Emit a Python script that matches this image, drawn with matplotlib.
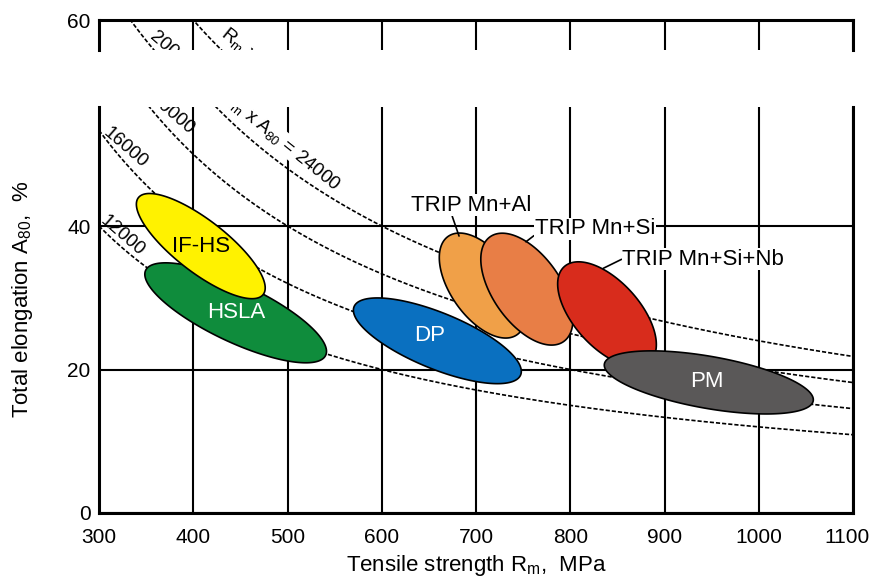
import numpy as np
import matplotlib.pyplot as plt
from matplotlib.transforms import ScaledTranslation

plt.rcParams['font.family'] = ['Liberation Sans', 'DejaVu Sans']
plt.rcParams['mathtext.default'] = 'regular'

# iso-lines Rm x A80 = const
products = [12000, 16000, 20000, 24000]
product_labels = ['12000', '16000', '20000', 'R$_m$ x A$_{80}$ = 24000']
product_label_x = [325, 328, 377, 493]
product_label_y = [38.7, 50.9, 55.6, 51.9]
product_label_rot = [-41, -41, -41, -39]

# steel grade regions: centre (MPa, %), semi-axes (MPa-equivalent), tilt (deg)
grades = ['HSLA', 'IF-HS', 'DP', 'TRIP Mn+Al', 'TRIP Mn+Si', 'TRIP Mn+Si+Nb', 'PM']
rm_centre = [445, 408, 659, 707, 754, 839, 947]
a80_centre = [27.9, 37.2, 24.0, 31.7, 31.2, 27.7, 18.2]
semi_major = [105.6, 83.8, 95.5, 63.7, 67.9, 67.9, 112.5]
semi_minor = [30.8, 27.6, 29.7, 34.0, 36.1, 35.0, 27.6]
tilt = [-25.3, -37.8, -22.3, -55, -55, -48, -10]
fill_colors = ['#0F8C3C', '#FFF200', '#0A70C0', '#F0A048', '#E87E46', '#D82C1C', '#5A5858']

# labels drawn inside the regions
inner_names = ['HSLA', 'IF-HS', 'DP', 'PM']
inner_x = [446, 408, 651, 945]
inner_y = [27.9, 37.1, 24.7, 18.3]
inner_colors = ['white', 'black', 'white', 'white']

# TRIP labels with leader lines
trip_names = ['TRIP Mn+Al', 'TRIP Mn+Si', 'TRIP Mn+Si+Nb']
trip_text_x = [695, 826, 941]
trip_text_y = [42.9, 39.6, 35.4]
trip_point_x = [682, 753, 835]
trip_point_y = [38.6, 37.8, 34.1]
trip_relpos = [(0.34, 0.0), (0.0, 0.2), (0.0, 0.5)]

W, H = 871, 579
fig = plt.figure(figsize=(W / 100, H / 100), dpi=100)
ax_top = fig.add_axes([99 / W, 1 - 50 / H, 754 / W, 30 / H])
ax = fig.add_axes([99 / W, 1 - 513 / H, 754 / W, 406 / H])

px_per_mpa = 754 / 800
px_per_pct = 287 / 40
k = px_per_pct / px_per_mpa

ax.set_ylim(0, 406 / px_per_pct)
ax_top.set_ylim(60 - 30 / px_per_pct, 60)

rm = np.linspace(300, 1100, 400)
for a in (ax, ax_top):
    a.set_xlim(300, 1100)
    a.set_xticks(range(300, 1101, 100))
    a.tick_params(length=0, labelsize=15)
    a.grid(axis='x', color='black', lw=1.5, zorder=0.5)
    a.set_axisbelow(True)
    for s in a.spines.values():
        s.set_linewidth(2.2)
        s.set_zorder(10)
    for c in products:
        a.plot(rm, c / rm, color='black', lw=1.2, ls=(0, (2.5, 1.2)), zorder=3)
    for lab, lx, ly, rot in zip(product_labels, product_label_x, product_label_y,
                                product_label_rot):
        bb = dict(fc='white', ec='none', pad=0.5) if '24000' in lab else None
        a.text(lx, ly, lab, fontsize=13.5, rotation=rot, ha='center', va='center',
               rotation_mode='anchor', clip_on=True, bbox=bb, zorder=2)

ax_top.spines['bottom'].set_visible(False)
ax_top.tick_params(labelbottom=False, pad=6)
ax_top.set_yticks([60])
ax.spines['top'].set_visible(False)
ax.set_yticks([0, 20, 40])
ax.grid(axis='y', color='black', lw=1.5, zorder=0.5)
ax.tick_params(axis='x', pad=11)
ax.tick_params(axis='y', pad=6)

# keep the last x tick label inside the picture
last = ax.get_xticklabels()[-1]
last.set_transform(last.get_transform() + ScaledTranslation(-6 / 100, 0, fig.dpi_scale_trans))

t = np.linspace(0, 2 * np.pi, 300)
for i in range(len(grades)):
    th = np.radians(tilt[i])
    ex = semi_major[i] * np.cos(t)
    ey = semi_minor[i] * np.sin(t)
    xs = rm_centre[i] + ex * np.cos(th) - ey * np.sin(th)
    ys = a80_centre[i] + (ex * np.sin(th) + ey * np.cos(th)) / k
    ax.fill(xs, ys, facecolor=fill_colors[i], edgecolor='black', lw=1.2, zorder=4 + i * 0.1)

for name, x, y, c in zip(inner_names, inner_x, inner_y, inner_colors):
    ax.text(x, y, name, color=c, fontsize=16, ha='center', va='center', zorder=6)

for name, tx, ty, px, py, rp in zip(trip_names, trip_text_x, trip_text_y,
                                   trip_point_x, trip_point_y, trip_relpos):
    ax.annotate(name, xy=(px, py), xytext=(tx, ty), fontsize=16, ha='center', va='center',
                bbox=dict(fc='white', ec='none', pad=0.5), zorder=7,
                arrowprops=dict(arrowstyle='-', color='black', lw=1.2, relpos=rp,
                                shrinkA=0, shrinkB=0))

ax.set_xlabel('Tensile strength R$_m$,  MPa', fontsize=16, labelpad=4)
ax.set_ylabel('Total elongation A$_{80}$,  %', fontsize=16)
ax.yaxis.set_label_coords(-0.085, 0.527)

fig.savefig('out.png', dpi=100, facecolor='white')
